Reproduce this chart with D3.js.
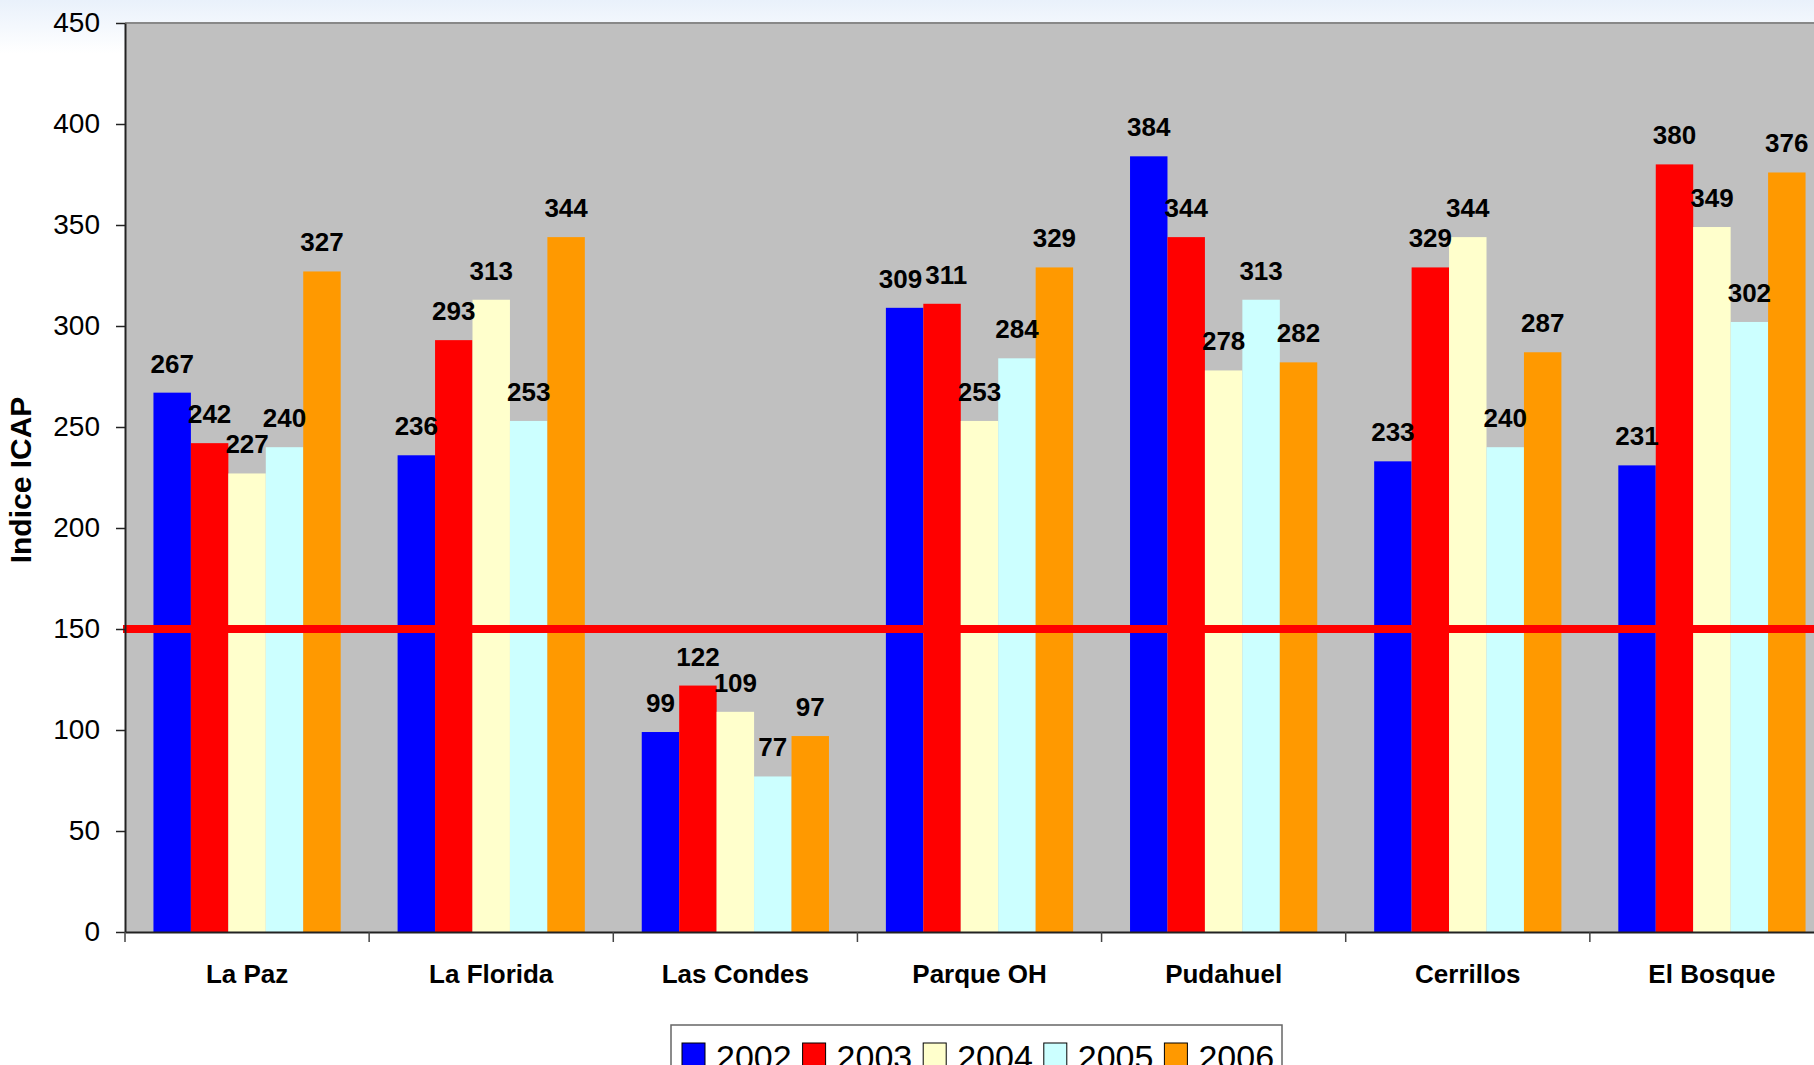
<!DOCTYPE html>
<html>
<head>
<meta charset="utf-8">
<script src="https://cdn.jsdelivr.net/npm/d3@7"></script>
<style>
  html, body { margin: 0; padding: 0; overflow: hidden; background: #fff; }
  svg { display: block; font-family: "Liberation Sans", Arial, sans-serif; }
</style>
</head>
<body>
<svg id="chart" width="1814" height="1065"></svg>
<script>
const categories = ["La Paz", "La Florida", "Las Condes", "Parque OH", "Pudahuel", "Cerrillos", "El Bosque"];
const years = ["2002", "2003", "2004", "2005", "2006"];
const colors = ["#0000FF", "#FF0000", "#FFFFCC", "#CCFFFF", "#FF9900"];
const values2002 = [267, 236, 99, 309, 384, 233, 231];
const values2003 = [242, 293, 122, 311, 344, 329, 380];
const values2004 = [227, 313, 109, 253, 278, 344, 349];
const values2005 = [240, 253, 77, 284, 313, 240, 302];
const values2006 = [327, 344, 97, 329, 282, 287, 376];
const yTicks = [0, 50, 100, 150, 200, 250, 300, 350, 400, 450];
const limitValue = 150;
const yTitle = "Indice ICAP";

const series = [values2002, values2003, values2004, values2005, values2006];

const svg = d3.select("#chart");
const W = 1814, H = 1065;

// background gradient
const defs = svg.append("defs");
const grad = defs.append("linearGradient").attr("id", "bg").attr("x1", 0).attr("y1", 0).attr("x2", 0).attr("y2", 1);
grad.append("stop").attr("offset", "0").attr("stop-color", "#e9f1fb");
grad.append("stop").attr("offset", "0.05").attr("stop-color", "#ffffff");
grad.append("stop").attr("offset", "1").attr("stop-color", "#ffffff");
svg.append("rect").attr("width", W).attr("height", H).attr("fill", "url(#bg)");

const plotLeft = 125, plotRight = 1834, plotTop = 23, plotBottom = 932;

const x0 = d3.scaleBand().domain(categories).range([plotLeft, plotRight]).paddingInner(0).paddingOuter(0);
const x1 = d3.scaleBand().domain(years).range([0, x0.bandwidth()]).paddingInner(0).paddingOuter(0.76);
const y = d3.scaleLinear().domain([0, 450]).range([plotBottom, plotTop]);

// plot area
svg.append("rect")
  .attr("x", plotLeft).attr("y", plotTop)
  .attr("width", plotRight - plotLeft).attr("height", plotBottom - plotTop)
  .attr("fill", "#C0C0C0");
svg.append("line")
  .attr("x1", plotLeft).attr("x2", plotRight)
  .attr("y1", plotTop).attr("y2", plotTop)
  .attr("stroke", "#888").attr("stroke-width", 2);

// bars
const groups = svg.append("g").selectAll("g")
  .data(categories)
  .join("g")
  .attr("transform", d => `translate(${x0(d)},0)`);

groups.selectAll("rect")
  .data((c, i) => years.map((yr, k) => ({ yr, k, v: series[k][i] })))
  .join("rect")
  .attr("x", d => x1(d.yr))
  .attr("width", x1.bandwidth())
  .attr("y", d => y(d.v))
  .attr("height", d => y(0) - y(d.v))
  .attr("fill", d => colors[d.k]);

// limit line
svg.append("line")
  .attr("x1", plotLeft - 2).attr("x2", W)
  .attr("y1", y(limitValue)).attr("y2", y(limitValue))
  .attr("stroke", "#FF0000").attr("stroke-width", 8);

// data labels
groups.each(function() {
  const g = d3.select(this);
  const labels = g.selectAll("text.val")
    .data(g.datum() ? years.map((yr, k) => ({ yr, k, v: series[k][categories.indexOf(g.datum())] })) : [])
    .join("text")
    .attr("class", "val")
    .attr("x", d => x1(d.yr) + x1.bandwidth() / 2)
    .attr("y", d => y(d.v) - 20)
    .attr("text-anchor", "middle")
    .attr("font-size", 26)
    .attr("font-weight", "bold")
    .attr("fill", "#000")
    .text(d => d.v);
  // nudge neighbouring labels apart if they collide
  const nodes = labels.nodes();
  for (let pass = 0; pass < 3; pass++) {
    for (let i = 0; i < nodes.length - 1; i++) {
      const a = nodes[i].getBBox(), b = nodes[i + 1].getBBox();
      const vOverlap = a.y < b.y + b.height - 6 && b.y < a.y + a.height - 6;
      const hOverlap = a.x + a.width + 3 - b.x;
      if (vOverlap && hOverlap > 0) {
        nodes[i].setAttribute("x", +nodes[i].getAttribute("x") - hOverlap / 2);
        nodes[i + 1].setAttribute("x", +nodes[i + 1].getAttribute("x") + hOverlap / 2);
      }
    }
  }
});

// y axis
const yAxis = svg.append("g")
  .attr("transform", `translate(${plotLeft},0)`)
  .call(d3.axisLeft(y).tickValues(yTicks).tickSize(9).tickSizeOuter(0).tickPadding(16));
yAxis.select(".domain").attr("stroke", "#222").attr("stroke-width", 2);
yAxis.selectAll(".tick line").attr("stroke", "#222").attr("stroke-width", 1.5);
yAxis.selectAll(".tick text").attr("font-size", 28).attr("fill", "#000")
  .attr("font-family", "'Liberation Sans', Arial, sans-serif");

// x axis
const xAxis = svg.append("g")
  .attr("transform", `translate(0,${plotBottom})`)
  .call(d3.axisBottom(x0).tickSize(0).tickPadding(33));
xAxis.select(".domain").attr("stroke", "#222").attr("stroke-width", 2);
xAxis.selectAll(".tick text").attr("font-size", 26).attr("font-weight", "bold").attr("fill", "#000")
  .attr("font-family", "'Liberation Sans', Arial, sans-serif");
xAxis.selectAll("line.bound")
  .data(categories)
  .join("line")
  .attr("class", "bound")
  .attr("x1", d => x0(d)).attr("x2", d => x0(d))
  .attr("y1", 0).attr("y2", 10)
  .attr("stroke", "#444").attr("stroke-width", 1.5);

// y title
svg.append("text")
  .attr("transform", `translate(31,480) rotate(-90)`)
  .attr("text-anchor", "middle")
  .attr("font-size", 30)
  .attr("font-weight", "bold")
  .attr("fill", "#000")
  .text(yTitle);

// legend
const legend = svg.append("g");
legend.append("rect")
  .attr("x", 671).attr("y", 1025)
  .attr("width", 611).attr("height", 80)
  .attr("fill", "#fff").attr("stroke", "#666").attr("stroke-width", 1.5);
const item = legend.selectAll("g.item")
  .data(years)
  .join("g")
  .attr("class", "item")
  .attr("transform", (d, i) => `translate(${682 + i * 120.6},1043)`);
item.append("rect")
  .attr("width", 23).attr("height", 24)
  .attr("fill", (d, i) => colors[i])
  .attr("stroke", "#000").attr("stroke-width", 1);
item.append("text")
  .attr("x", 34).attr("y", 26)
  .attr("font-size", 34)
  .attr("fill", "#000")
  .text(d => d);
</script>
</body>
</html>
